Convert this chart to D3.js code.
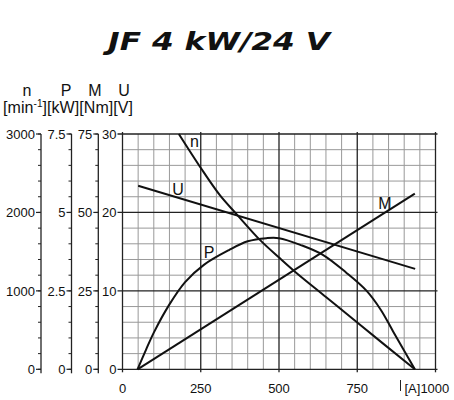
<!DOCTYPE html>
<html>
<head>
<meta charset="utf-8">
<script src="https://cdn.jsdelivr.net/npm/d3@7"></script>
<style>
  body { margin: 0; background: #fff; }
  svg text { font-family: "Liberation Sans", Arial, sans-serif; fill: #111; }
</style>
</head>
<body>
<div id="chart"></div>
<script>
// motor curves, current in A
var pCurrent = [48, 75, 100, 150, 200, 260, 340, 400, 460, 500, 570, 640, 715, 780, 825, 865, 934];
var pPower   = [0, 0.62, 1.17, 2.07, 2.78, 3.33, 3.8, 4.08, 4.18, 4.18, 3.96, 3.65, 3.08, 2.5, 1.9, 1.2, 0];
var nCurrent = [180, 248, 311, 365, 439, 503, 551, 650, 753, 934];
var nSpeed   = [3000, 2580, 2220, 1976, 1650, 1415, 1245, 922, 586, 0];
var uCurrent = [50, 935];
var uVolt    = [23.4, 12.8];
var mCurrent = [48, 934];
var mTorque  = [0, 56];
var xTicks = [0, 250, 500, 750];
var nTicks = [0, 1000, 2000, 3000];
var pTicks = [0, 2.5, 5, 7.5];
var mTicks = [0, 25, 50, 75];
var uTicks = [0, 10, 20, 30];

var w = 454, h = 400;
var x = d3.scaleLinear().domain([0, 1000]).range([122.5, 435.5]);
var yU = d3.scaleLinear().domain([0, 30]).range([369.3, 134]);
var yN = d3.scaleLinear().domain([0, 3000]).range(yU.range());
var yP = d3.scaleLinear().domain([0, 7.5]).range(yU.range());
var yM = d3.scaleLinear().domain([0, 75]).range(yU.range());

var svg = d3.select("#chart").append("svg")
    .attr("width", w).attr("height", h);

// title
svg.append("text")
   .attr("x", 219).attr("y", 50)
   .attr("text-anchor", "middle")
   .attr("textLength", 222).attr("lengthAdjust", "spacingAndGlyphs")
   .style("font-family", "'DejaVu Sans', sans-serif")
   .style("font-weight", "bold").style("font-style", "italic")
   .style("font-size", "24px")
   .text("JF 4 kW/24 V");

// grid
var grid = svg.append("g");
grid.selectAll("line.vmin")
    .data(d3.range(0, 1001, 50).filter(d => d % 250 != 0))
    .enter().append("line")
    .attr("x1", d => x(d)).attr("x2", d => x(d))
    .attr("y1", yU(30)).attr("y2", yU(0))
    .attr("stroke", "#999").attr("stroke-width", 1);
grid.selectAll("line.hmin")
    .data(d3.range(0, 31, 2).filter(d => d % 10 != 0))
    .enter().append("line")
    .attr("x1", x(0)).attr("x2", x(1000))
    .attr("y1", d => yU(d)).attr("y2", d => yU(d))
    .attr("stroke", "#999").attr("stroke-width", 1);
grid.selectAll("line.vmaj")
    .data(d3.range(0, 1001, 250))
    .enter().append("line")
    .attr("x1", d => x(d)).attr("x2", d => x(d))
    .attr("y1", yU(30) - 2).attr("y2", yU(0) + 3)
    .attr("stroke", "#222").attr("stroke-width", 1.3);
grid.selectAll("line.hmaj")
    .data(uTicks)
    .enter().append("line")
    .attr("x1", x(0) - 5).attr("x2", x(1000) + 2)
    .attr("y1", d => yU(d)).attr("y2", d => yU(d))
    .attr("stroke", "#222").attr("stroke-width", 1.3);

// the three extra left axes
function sideAxis(scale, xpos, major, step, fmt) {
    var g = svg.append("g").attr("transform", `translate(${xpos},0)`);
    var d = scale.domain();
    g.append("line")
     .attr("x1", 0).attr("x2", 0)
     .attr("y1", scale(d[1])).attr("y2", scale(d[0]) + 4)
     .attr("stroke", "#222").attr("stroke-width", 1.3);
    g.selectAll("line.minor")
     .data(d3.range(d[0], d[1] + step / 2, step))
     .enter().append("line")
     .attr("x1", -3).attr("x2", 0)
     .attr("y1", v => scale(v)).attr("y2", v => scale(v))
     .attr("stroke", "#222");
    g.selectAll("line.major")
     .data(major).enter().append("line")
     .attr("x1", -5).attr("x2", 0)
     .attr("y1", v => scale(v)).attr("y2", v => scale(v))
     .attr("stroke", "#222").attr("stroke-width", 1.2);
    g.selectAll("text")
     .data(major).enter().append("text")
     .attr("x", -6).attr("y", v => scale(v) + 5)
     .attr("text-anchor", "end")
     .style("font-size", "13px")
     .text(fmt);
}
sideAxis(yN, 41, nTicks, 200, d => d);
sideAxis(yP, 71.5, pTicks, 0.5, d => d);
sideAxis(yM, 98.3, mTicks, 5, d => d);

// main U axis labels
svg.selectAll("text.ulab")
   .data(uTicks).enter().append("text")
   .attr("x", x(0) - 6).attr("y", d => yU(d) + 5)
   .attr("text-anchor", "end")
   .style("font-size", "13px")
   .text(d => d);

// x labels
svg.selectAll("text.xlab")
   .data(xTicks).enter().append("text")
   .attr("x", d => x(d)).attr("y", 393)
   .attr("text-anchor", "middle")
   .style("font-size", "13px")
   .text(d => d);
svg.append("line")
   .attr("x1", x(1000) - 35).attr("x2", x(1000) - 35)
   .attr("y1", 380).attr("y2", 391)
   .attr("stroke", "#222");
svg.append("text")
   .attr("x", x(1000) - 31).attr("y", 393)
   .style("font-size", "13px")
   .text("[A]1000");

// axis headers
var heads = [["n", 27], ["P", 66], ["M", 95], ["U", 124]];
svg.selectAll("text.head")
   .data(heads).enter().append("text")
   .attr("x", d => d[1]).attr("y", 96)
   .attr("text-anchor", "middle")
   .style("font-size", "16px")
   .text(d => d[0]);
var units = svg.append("text").attr("x", 3).attr("y", 113)
   .attr("textLength", 130).attr("lengthAdjust", "spacing")
   .style("font-size", "16px");
units.append("tspan").text("[min");
units.append("tspan").attr("dy", -6).style("font-size", "10px").text("-1");
units.append("tspan").attr("dy", 6).text("][kW][Nm][V]");

// curves
var line = d3.line().curve(d3.curveCatmullRom.alpha(0.5));
function curve(xs, ys, scale) {
    svg.append("path")
       .attr("d", line(xs.map((v, i) => [x(v), scale(ys[i])])))
       .attr("fill", "none").attr("stroke", "#111").attr("stroke-width", 2);
}
curve(pCurrent, pPower, yP);
curve(nCurrent, nSpeed, yN);
curve(uCurrent, uVolt, yU);
curve(mCurrent, mTorque, yM);

// curve names
var names = [["n", 194.5, 147], ["U", 178, 195], ["P", 209, 258], ["M", 385, 209]];
svg.selectAll("text.cname")
   .data(names).enter().append("text")
   .attr("x", d => d[1]).attr("y", d => d[2])
   .attr("text-anchor", "middle")
   .style("font-size", "16px")
   .text(d => d[0]);
</script>
</body>
</html>
